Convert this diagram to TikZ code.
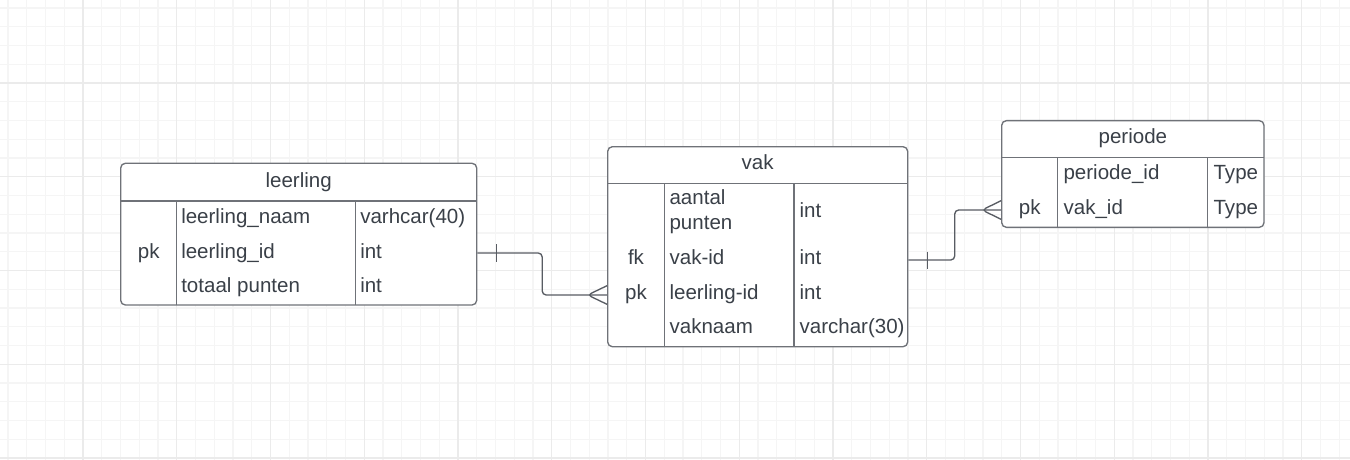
\documentclass[tikz,border=0pt]{standalone}
\usepackage{fontspec}
\setmainfont{Liberation Sans}
\usetikzlibrary{calc}
\definecolor{gridminor}{HTML}{F5F5F5}
\definecolor{gridmajor}{HTML}{EBEBEB}
\definecolor{tblline}{HTML}{6F7278}
\definecolor{txtcol}{HTML}{3A4048}
\definecolor{conncol}{HTML}{585C63}
\begin{document}
\begin{tikzpicture}[
    x=0.75pt,y=-0.75pt,
    tbl/.style={draw=tblline, fill=white, line width=1pt, rounded corners=3.5pt, inner sep=0pt},
    sep/.style={draw=tblline, line width=1pt},
    cell/.style={anchor=base west, inner sep=0pt, text=txtcol, font=\fontsize{15.4}{18.75}\selectfont},
    key/.style={cell, anchor=base},
    conn/.style={draw=conncol, line width=1pt, rounded corners=3pt}
    ]
    \useasboundingbox[fill=white] (0, 0) rectangle (1350, 460);
    \foreach \i in {0,...,71} \draw[gridminor, line width=0.8pt] (8+18.75*\i, 0) -- (8+18.75*\i, 460);
    \foreach \i in {0,...,24} \draw[gridminor, line width=0.8pt] (0, 8+18.75*\i) -- (1350, 8+18.75*\i);
    \foreach \i in {0,...,13} \draw[gridmajor, line width=1pt] (83+93.75*\i, 0) -- (83+93.75*\i, 460);
    \foreach \i in {0,...,4} \draw[gridmajor, line width=1pt] (0, 83+93.75*\i) -- (1350, 83+93.75*\i);

    \node[tbl, minimum width=267pt, minimum height=106.3pt] (leerling) at (298.7, 234.15) {};
    \draw[sep] (120.7, 201) -- (476.7, 201);
    \draw[sep] (176.7, 201) -- (176.7, 305);
    \draw[sep] (355.7, 201) -- (355.7, 305);
    \node[key] (lhead) at (298.7, 187.3) {leerling};
    \node[key] (lpk) at (148.7, 258.3) {pk};
    \node[cell] (lnaam) at (181, 223.3) {leerling\_naam};
    \node[cell] (lid) at (181, 258.3) {leerling\_id};
    \node[cell] (ltot) at (181, 292.7) {totaal punten};
    \node[cell] (lnaamt) at (360, 223.3) {varhcar(40)};
    \node[cell] (lidt) at (360, 258.3) {int};
    \node[cell] (ltott) at (360, 292.7) {int};

    \node[tbl, minimum width=225pt, minimum height=150pt] (vak) at (757.7, 246.7) {};
    \draw[sep] (607.7, 183.3) -- (907.7, 183.3);
    \draw[sep] (664.3, 183.3) -- (664.3, 346.7);
    \draw[sep] (794, 183.3) -- (794, 346.7);
    \node[key] (vhead) at (757.7, 169.3) {vak};
    \node[key] (vfk) at (636, 264.3) {fk};
    \node[key] (vpk) at (636, 299.3) {pk};
    \node[cell, anchor=west, align=left] (vaantal) at (669.3, 212) {aantal\\punten};
    \node[cell] (vid) at (669.3, 264.3) {vak-id};
    \node[cell] (vlid) at (669.3, 299.3) {leerling-id};
    \node[cell] (vnaam) at (669.3, 333.3) {vaknaam};
    \node[cell] (vaantalt) at (799.3, 217.7) {int};
    \node[cell] (vidt) at (799.3, 264.3) {int};
    \node[cell] (vlidt) at (799.3, 299.3) {int};
    \node[cell] (vnaamt) at (799.3, 333.3) {varchar(30)};

    \node[tbl, minimum width=196.7pt, minimum height=80pt] (periode) at (1132.85, 174) {};
    \draw[sep] (1001.7, 157.7) -- (1264, 157.7);
    \draw[sep] (1057.7, 157.7) -- (1057.7, 227.3);
    \draw[sep] (1207.7, 157.7) -- (1207.7, 227.3);
    \node[key] (phead) at (1132.85, 143.3) {periode};
    \node[key] (ppk) at (1029.7, 214.3) {pk};
    \node[cell] (pid) at (1063.3, 179) {periode\_id};
    \node[cell] (pvid) at (1063.3, 214.3) {vak\_id};
    \node[cell] (pidt) at (1213.3, 179) {Type};
    \node[cell] (pvidt) at (1213.3, 214.3) {Type};

    \coordinate (lend) at (leerling.east |- 0, 253);
    \coordinate (vin) at (vak.west |- 0, 295);
    \coordinate (vend) at (vak.east |- 0, 260);
    \coordinate (pin) at (periode.west |- 0, 210);
    \draw[conn] (lend) -| ($(lend)!.5!(vin)$) |- (vin);
    \draw[conn] ($(lend)+(19.3, -9)$) -- ++(0, 18);
    \draw[conn] ($(vin)+(0, -9.3)$) -- ++(-19.4, 9.3) -- ++(19.4, 9.3);
    \draw[conn] (vend) -| ($(vend)!.5!(pin)$) |- (pin);
    \draw[conn] ($(vend)+(19, -8.5)$) -- ++(0, 17);
    \draw[conn] ($(pin)+(0, -9.3)$) -- ++(-19, 9.3) -- ++(19, 9.3);
  \end{tikzpicture}
\end{document}
